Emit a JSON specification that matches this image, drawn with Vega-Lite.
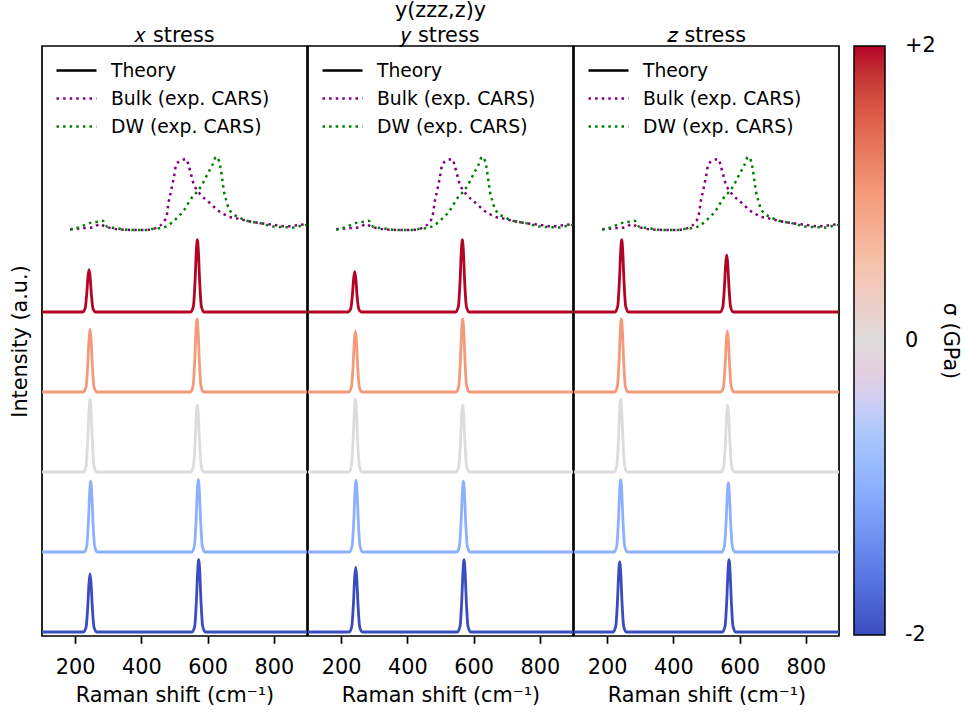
{
"$schema": "https://vega.github.io/schema/vega-lite/v6.json",
"padding": {"left": 8, "top": -1, "right": 0, "bottom": 0},
"config": {
  "font": "DejaVu Sans",
  "view": {"stroke": "black", "strokeWidth": 1.7},
  "concat": {"spacing": -3},
  "title": {"fontSize": 20.8, "fontWeight": "normal", "color": "black", "offset": -1, "lineHeight": 25},
  "axis": {"grid": false, "domain": false, "labelColor": "black", "titleColor": "black", "tickColor": "black", "labelFontSize": 20.8, "titleFontSize": 20.8, "titleFontWeight": "normal"}
},
"datasets": {
"theory": [
{"p":"x","s":-2,"x":100,"y":0},{"p":"x","s":-2,"x":225,"y":0},{"p":"x","s":-2,"x":233,"y":0.058},{"p":"x","s":-2,"x":238,"y":0.305},{"p":"x","s":-2,"x":242,"y":0.616},{"p":"x","s":-2,"x":245,"y":0.725},{"p":"x","s":-2,"x":248,"y":0.616},{"p":"x","s":-2,"x":252,"y":0.305},{"p":"x","s":-2,"x":257,"y":0.058},{"p":"x","s":-2,"x":265,"y":0},{"p":"x","s":-2,"x":553,"y":0},{"p":"x","s":-2,"x":561,"y":0.072},{"p":"x","s":-2,"x":566,"y":0.38},{"p":"x","s":-2,"x":570,"y":0.769},{"p":"x","s":-2,"x":573,"y":0.905},{"p":"x","s":-2,"x":576,"y":0.769},{"p":"x","s":-2,"x":580,"y":0.38},{"p":"x","s":-2,"x":585,"y":0.072},{"p":"x","s":-2,"x":593,"y":0},{"p":"x","s":-2,"x":900,"y":0},
{"p":"x","s":-1,"x":100,"y":1},{"p":"x","s":-1,"x":227,"y":1},{"p":"x","s":-1,"x":235,"y":1.071},{"p":"x","s":-1,"x":240,"y":1.372},{"p":"x","s":-1,"x":244,"y":1.752},{"p":"x","s":-1,"x":247,"y":1.885},{"p":"x","s":-1,"x":250,"y":1.752},{"p":"x","s":-1,"x":254,"y":1.372},{"p":"x","s":-1,"x":259,"y":1.071},{"p":"x","s":-1,"x":267,"y":1},{"p":"x","s":-1,"x":552,"y":1},{"p":"x","s":-1,"x":560,"y":1.072},{"p":"x","s":-1,"x":565,"y":1.38},{"p":"x","s":-1,"x":569,"y":1.769},{"p":"x","s":-1,"x":572,"y":1.905},{"p":"x","s":-1,"x":575,"y":1.769},{"p":"x","s":-1,"x":579,"y":1.38},{"p":"x","s":-1,"x":584,"y":1.072},{"p":"x","s":-1,"x":592,"y":1},{"p":"x","s":-1,"x":900,"y":1},
{"p":"x","s":0,"x":100,"y":2},{"p":"x","s":0,"x":225,"y":2},{"p":"x","s":0,"x":233,"y":2.073},{"p":"x","s":0,"x":238,"y":2.382},{"p":"x","s":0,"x":242,"y":2.774},{"p":"x","s":0,"x":245,"y":2.91},{"p":"x","s":0,"x":248,"y":2.774},{"p":"x","s":0,"x":252,"y":2.382},{"p":"x","s":0,"x":257,"y":2.073},{"p":"x","s":0,"x":265,"y":2},{"p":"x","s":0,"x":549,"y":2},{"p":"x","s":0,"x":557,"y":2.067},{"p":"x","s":0,"x":562,"y":2.351},{"p":"x","s":0,"x":566,"y":2.71},{"p":"x","s":0,"x":569,"y":2.835},{"p":"x","s":0,"x":572,"y":2.71},{"p":"x","s":0,"x":576,"y":2.351},{"p":"x","s":0,"x":581,"y":2.067},{"p":"x","s":0,"x":589,"y":2},{"p":"x","s":0,"x":900,"y":2},
{"p":"x","s":1,"x":100,"y":3},{"p":"x","s":1,"x":225,"y":3},{"p":"x","s":1,"x":233,"y":3.063},{"p":"x","s":1,"x":238,"y":3.33},{"p":"x","s":1,"x":242,"y":3.667},{"p":"x","s":1,"x":245,"y":3.785},{"p":"x","s":1,"x":248,"y":3.667},{"p":"x","s":1,"x":252,"y":3.33},{"p":"x","s":1,"x":257,"y":3.063},{"p":"x","s":1,"x":265,"y":3},{"p":"x","s":1,"x":548,"y":3},{"p":"x","s":1,"x":556,"y":3.073},{"p":"x","s":1,"x":561,"y":3.384},{"p":"x","s":1,"x":565,"y":3.778},{"p":"x","s":1,"x":568,"y":3.915},{"p":"x","s":1,"x":571,"y":3.778},{"p":"x","s":1,"x":575,"y":3.384},{"p":"x","s":1,"x":580,"y":3.073},{"p":"x","s":1,"x":588,"y":3},{"p":"x","s":1,"x":900,"y":3},
{"p":"x","s":2,"x":100,"y":4},{"p":"x","s":2,"x":222,"y":4},{"p":"x","s":2,"x":230,"y":4.042},{"p":"x","s":2,"x":235,"y":4.223},{"p":"x","s":2,"x":239,"y":4.451},{"p":"x","s":2,"x":242,"y":4.53},{"p":"x","s":2,"x":245,"y":4.451},{"p":"x","s":2,"x":249,"y":4.223},{"p":"x","s":2,"x":254,"y":4.042},{"p":"x","s":2,"x":262,"y":4},{"p":"x","s":2,"x":549,"y":4},{"p":"x","s":2,"x":557,"y":4.072},{"p":"x","s":2,"x":562,"y":4.38},{"p":"x","s":2,"x":566,"y":4.769},{"p":"x","s":2,"x":569,"y":4.905},{"p":"x","s":2,"x":572,"y":4.769},{"p":"x","s":2,"x":576,"y":4.38},{"p":"x","s":2,"x":581,"y":4.072},{"p":"x","s":2,"x":589,"y":4},{"p":"x","s":2,"x":900,"y":4},
{"p":"y","s":-2,"x":100,"y":0},{"p":"y","s":-2,"x":224,"y":0},{"p":"y","s":-2,"x":232,"y":0.065},{"p":"y","s":-2,"x":237,"y":0.34},{"p":"y","s":-2,"x":241,"y":0.689},{"p":"y","s":-2,"x":244,"y":0.81},{"p":"y","s":-2,"x":247,"y":0.689},{"p":"y","s":-2,"x":251,"y":0.34},{"p":"y","s":-2,"x":256,"y":0.065},{"p":"y","s":-2,"x":264,"y":0},{"p":"y","s":-2,"x":551,"y":0},{"p":"y","s":-2,"x":559,"y":0.072},{"p":"y","s":-2,"x":564,"y":0.38},{"p":"y","s":-2,"x":568,"y":0.769},{"p":"y","s":-2,"x":571,"y":0.905},{"p":"y","s":-2,"x":574,"y":0.769},{"p":"y","s":-2,"x":578,"y":0.38},{"p":"y","s":-2,"x":583,"y":0.072},{"p":"y","s":-2,"x":591,"y":0},{"p":"y","s":-2,"x":900,"y":0},
{"p":"y","s":-1,"x":100,"y":1},{"p":"y","s":-1,"x":225,"y":1},{"p":"y","s":-1,"x":233,"y":1.072},{"p":"y","s":-1,"x":238,"y":1.376},{"p":"y","s":-1,"x":242,"y":1.761},{"p":"y","s":-1,"x":245,"y":1.895},{"p":"y","s":-1,"x":248,"y":1.761},{"p":"y","s":-1,"x":252,"y":1.376},{"p":"y","s":-1,"x":257,"y":1.072},{"p":"y","s":-1,"x":265,"y":1},{"p":"y","s":-1,"x":549,"y":1},{"p":"y","s":-1,"x":557,"y":1.071},{"p":"y","s":-1,"x":562,"y":1.372},{"p":"y","s":-1,"x":566,"y":1.752},{"p":"y","s":-1,"x":569,"y":1.885},{"p":"y","s":-1,"x":572,"y":1.752},{"p":"y","s":-1,"x":576,"y":1.372},{"p":"y","s":-1,"x":581,"y":1.071},{"p":"y","s":-1,"x":589,"y":1},{"p":"y","s":-1,"x":900,"y":1},
{"p":"y","s":0,"x":100,"y":2},{"p":"y","s":0,"x":223,"y":2},{"p":"y","s":0,"x":231,"y":2.073},{"p":"y","s":0,"x":236,"y":2.382},{"p":"y","s":0,"x":240,"y":2.774},{"p":"y","s":0,"x":243,"y":2.91},{"p":"y","s":0,"x":246,"y":2.774},{"p":"y","s":0,"x":250,"y":2.382},{"p":"y","s":0,"x":255,"y":2.073},{"p":"y","s":0,"x":263,"y":2},{"p":"y","s":0,"x":547,"y":2},{"p":"y","s":0,"x":555,"y":2.067},{"p":"y","s":0,"x":560,"y":2.351},{"p":"y","s":0,"x":564,"y":2.71},{"p":"y","s":0,"x":567,"y":2.835},{"p":"y","s":0,"x":570,"y":2.71},{"p":"y","s":0,"x":574,"y":2.351},{"p":"y","s":0,"x":579,"y":2.067},{"p":"y","s":0,"x":587,"y":2},{"p":"y","s":0,"x":900,"y":2},
{"p":"y","s":1,"x":100,"y":3},{"p":"y","s":1,"x":223,"y":3},{"p":"y","s":1,"x":231,"y":3.061},{"p":"y","s":1,"x":236,"y":3.319},{"p":"y","s":1,"x":240,"y":3.646},{"p":"y","s":1,"x":243,"y":3.76},{"p":"y","s":1,"x":246,"y":3.646},{"p":"y","s":1,"x":250,"y":3.319},{"p":"y","s":1,"x":255,"y":3.061},{"p":"y","s":1,"x":263,"y":3},{"p":"y","s":1,"x":547,"y":3},{"p":"y","s":1,"x":555,"y":3.073},{"p":"y","s":1,"x":560,"y":3.384},{"p":"y","s":1,"x":564,"y":3.778},{"p":"y","s":1,"x":567,"y":3.915},{"p":"y","s":1,"x":570,"y":3.778},{"p":"y","s":1,"x":574,"y":3.384},{"p":"y","s":1,"x":579,"y":3.073},{"p":"y","s":1,"x":587,"y":3},{"p":"y","s":1,"x":900,"y":3},
{"p":"y","s":2,"x":100,"y":4},{"p":"y","s":2,"x":221,"y":4},{"p":"y","s":2,"x":229,"y":4.04},{"p":"y","s":2,"x":234,"y":4.212},{"p":"y","s":2,"x":238,"y":4.429},{"p":"y","s":2,"x":241,"y":4.505},{"p":"y","s":2,"x":244,"y":4.429},{"p":"y","s":2,"x":248,"y":4.212},{"p":"y","s":2,"x":253,"y":4.04},{"p":"y","s":2,"x":261,"y":4},{"p":"y","s":2,"x":546,"y":4},{"p":"y","s":2,"x":554,"y":4.072},{"p":"y","s":2,"x":559,"y":4.38},{"p":"y","s":2,"x":563,"y":4.769},{"p":"y","s":2,"x":566,"y":4.905},{"p":"y","s":2,"x":569,"y":4.769},{"p":"y","s":2,"x":573,"y":4.38},{"p":"y","s":2,"x":578,"y":4.072},{"p":"y","s":2,"x":586,"y":4},{"p":"y","s":2,"x":900,"y":4},
{"p":"z","s":-2,"x":100,"y":0},{"p":"z","s":-2,"x":218,"y":0},{"p":"z","s":-2,"x":226,"y":0.07},{"p":"z","s":-2,"x":231,"y":0.368},{"p":"z","s":-2,"x":235,"y":0.744},{"p":"z","s":-2,"x":238,"y":0.875},{"p":"z","s":-2,"x":241,"y":0.744},{"p":"z","s":-2,"x":245,"y":0.368},{"p":"z","s":-2,"x":250,"y":0.07},{"p":"z","s":-2,"x":258,"y":0},{"p":"z","s":-2,"x":548,"y":0},{"p":"z","s":-2,"x":556,"y":0.072},{"p":"z","s":-2,"x":561,"y":0.38},{"p":"z","s":-2,"x":565,"y":0.769},{"p":"z","s":-2,"x":568,"y":0.905},{"p":"z","s":-2,"x":571,"y":0.769},{"p":"z","s":-2,"x":575,"y":0.38},{"p":"z","s":-2,"x":580,"y":0.072},{"p":"z","s":-2,"x":588,"y":0},{"p":"z","s":-2,"x":900,"y":0},
{"p":"z","s":-1,"x":100,"y":1},{"p":"z","s":-1,"x":221,"y":1},{"p":"z","s":-1,"x":229,"y":1.072},{"p":"z","s":-1,"x":234,"y":1.38},{"p":"z","s":-1,"x":238,"y":1.769},{"p":"z","s":-1,"x":241,"y":1.905},{"p":"z","s":-1,"x":244,"y":1.769},{"p":"z","s":-1,"x":248,"y":1.38},{"p":"z","s":-1,"x":253,"y":1.072},{"p":"z","s":-1,"x":261,"y":1},{"p":"z","s":-1,"x":546,"y":1},{"p":"z","s":-1,"x":554,"y":1.069},{"p":"z","s":-1,"x":559,"y":1.363},{"p":"z","s":-1,"x":563,"y":1.735},{"p":"z","s":-1,"x":566,"y":1.865},{"p":"z","s":-1,"x":569,"y":1.735},{"p":"z","s":-1,"x":573,"y":1.363},{"p":"z","s":-1,"x":578,"y":1.069},{"p":"z","s":-1,"x":586,"y":1},{"p":"z","s":-1,"x":900,"y":1},
{"p":"z","s":0,"x":100,"y":2},{"p":"z","s":0,"x":221,"y":2},{"p":"z","s":0,"x":229,"y":2.073},{"p":"z","s":0,"x":234,"y":2.382},{"p":"z","s":0,"x":238,"y":2.774},{"p":"z","s":0,"x":241,"y":2.91},{"p":"z","s":0,"x":244,"y":2.774},{"p":"z","s":0,"x":248,"y":2.382},{"p":"z","s":0,"x":253,"y":2.073},{"p":"z","s":0,"x":261,"y":2},{"p":"z","s":0,"x":544,"y":2},{"p":"z","s":0,"x":552,"y":2.067},{"p":"z","s":0,"x":557,"y":2.351},{"p":"z","s":0,"x":561,"y":2.71},{"p":"z","s":0,"x":564,"y":2.835},{"p":"z","s":0,"x":567,"y":2.71},{"p":"z","s":0,"x":571,"y":2.351},{"p":"z","s":0,"x":576,"y":2.067},{"p":"z","s":0,"x":584,"y":2},{"p":"z","s":0,"x":900,"y":2},
{"p":"z","s":1,"x":100,"y":3},{"p":"z","s":1,"x":223,"y":3},{"p":"z","s":1,"x":231,"y":3.073},{"p":"z","s":1,"x":236,"y":3.384},{"p":"z","s":1,"x":240,"y":3.778},{"p":"z","s":1,"x":243,"y":3.915},{"p":"z","s":1,"x":246,"y":3.778},{"p":"z","s":1,"x":250,"y":3.384},{"p":"z","s":1,"x":255,"y":3.073},{"p":"z","s":1,"x":263,"y":3},{"p":"z","s":1,"x":543,"y":3},{"p":"z","s":1,"x":551,"y":3.061},{"p":"z","s":1,"x":556,"y":3.321},{"p":"z","s":1,"x":560,"y":3.65},{"p":"z","s":1,"x":563,"y":3.765},{"p":"z","s":1,"x":566,"y":3.65},{"p":"z","s":1,"x":570,"y":3.321},{"p":"z","s":1,"x":575,"y":3.061},{"p":"z","s":1,"x":583,"y":3},{"p":"z","s":1,"x":900,"y":3},
{"p":"z","s":2,"x":100,"y":4},{"p":"z","s":2,"x":224,"y":4},{"p":"z","s":2,"x":232,"y":4.072},{"p":"z","s":2,"x":237,"y":4.38},{"p":"z","s":2,"x":241,"y":4.769},{"p":"z","s":2,"x":244,"y":4.905},{"p":"z","s":2,"x":247,"y":4.769},{"p":"z","s":2,"x":251,"y":4.38},{"p":"z","s":2,"x":256,"y":4.072},{"p":"z","s":2,"x":264,"y":4},{"p":"z","s":2,"x":541,"y":4},{"p":"z","s":2,"x":549,"y":4.057},{"p":"z","s":2,"x":554,"y":4.3},{"p":"z","s":2,"x":558,"y":4.608},{"p":"z","s":2,"x":561,"y":4.715},{"p":"z","s":2,"x":564,"y":4.608},{"p":"z","s":2,"x":568,"y":4.3},{"p":"z","s":2,"x":573,"y":4.057},{"p":"z","s":2,"x":581,"y":4},{"p":"z","s":2,"x":900,"y":4}
],
"exp": [
{"k":"Bulk (exp. CARS)","x":185,"y":5.035},{"k":"Bulk (exp. CARS)","x":205,"y":5.04},{"k":"Bulk (exp. CARS)","x":230,"y":5.05},{"k":"Bulk (exp. CARS)","x":257,"y":5.06},{"k":"Bulk (exp. CARS)","x":275,"y":5.1},{"k":"Bulk (exp. CARS)","x":287,"y":5.075},{"k":"Bulk (exp. CARS)","x":307,"y":5.05},{"k":"Bulk (exp. CARS)","x":338,"y":5.03},{"k":"Bulk (exp. CARS)","x":388,"y":5.025},{"k":"Bulk (exp. CARS)","x":428,"y":5.03},{"k":"Bulk (exp. CARS)","x":448,"y":5.06},{"k":"Bulk (exp. CARS)","x":466,"y":5.12},{"k":"Bulk (exp. CARS)","x":476,"y":5.2},{"k":"Bulk (exp. CARS)","x":483,"y":5.39},{"k":"Bulk (exp. CARS)","x":488,"y":5.48},{"k":"Bulk (exp. CARS)","x":493,"y":5.58},{"k":"Bulk (exp. CARS)","x":498,"y":5.68},{"k":"Bulk (exp. CARS)","x":506,"y":5.85},{"k":"Bulk (exp. CARS)","x":523,"y":5.9},{"k":"Bulk (exp. CARS)","x":536,"y":5.91},{"k":"Bulk (exp. CARS)","x":543,"y":5.825},{"k":"Bulk (exp. CARS)","x":550,"y":5.72},{"k":"Bulk (exp. CARS)","x":556,"y":5.625},{"k":"Bulk (exp. CARS)","x":565,"y":5.54},{"k":"Bulk (exp. CARS)","x":578,"y":5.47},{"k":"Bulk (exp. CARS)","x":593,"y":5.41},{"k":"Bulk (exp. CARS)","x":610,"y":5.35},{"k":"Bulk (exp. CARS)","x":628,"y":5.28},{"k":"Bulk (exp. CARS)","x":646,"y":5.23},{"k":"Bulk (exp. CARS)","x":666,"y":5.19},{"k":"Bulk (exp. CARS)","x":688,"y":5.17},{"k":"Bulk (exp. CARS)","x":718,"y":5.14},{"k":"Bulk (exp. CARS)","x":759,"y":5.11},{"k":"Bulk (exp. CARS)","x":799,"y":5.09},{"k":"Bulk (exp. CARS)","x":839,"y":5.07},{"k":"Bulk (exp. CARS)","x":879,"y":5.09},{"k":"Bulk (exp. CARS)","x":900,"y":5.1},
{"k":"DW (exp. CARS)","x":185,"y":5.03},{"k":"DW (exp. CARS)","x":206,"y":5.05},{"k":"DW (exp. CARS)","x":230,"y":5.09},{"k":"DW (exp. CARS)","x":252,"y":5.12},{"k":"DW (exp. CARS)","x":270,"y":5.13},{"k":"DW (exp. CARS)","x":283,"y":5.14},{"k":"DW (exp. CARS)","x":298,"y":5.06},{"k":"DW (exp. CARS)","x":318,"y":5.05},{"k":"DW (exp. CARS)","x":368,"y":5.025},{"k":"DW (exp. CARS)","x":413,"y":5.025},{"k":"DW (exp. CARS)","x":438,"y":5.04},{"k":"DW (exp. CARS)","x":458,"y":5.05},{"k":"DW (exp. CARS)","x":480,"y":5.08},{"k":"DW (exp. CARS)","x":498,"y":5.14},{"k":"DW (exp. CARS)","x":516,"y":5.21},{"k":"DW (exp. CARS)","x":530,"y":5.28},{"k":"DW (exp. CARS)","x":543,"y":5.37},{"k":"DW (exp. CARS)","x":556,"y":5.45},{"k":"DW (exp. CARS)","x":570,"y":5.51},{"k":"DW (exp. CARS)","x":583,"y":5.59},{"k":"DW (exp. CARS)","x":593,"y":5.67},{"k":"DW (exp. CARS)","x":603,"y":5.75},{"k":"DW (exp. CARS)","x":613,"y":5.825},{"k":"DW (exp. CARS)","x":626,"y":5.94},{"k":"DW (exp. CARS)","x":635,"y":5.88},{"k":"DW (exp. CARS)","x":640,"y":5.78},{"k":"DW (exp. CARS)","x":643,"y":5.69},{"k":"DW (exp. CARS)","x":646,"y":5.6},{"k":"DW (exp. CARS)","x":650,"y":5.49},{"k":"DW (exp. CARS)","x":656,"y":5.4},{"k":"DW (exp. CARS)","x":663,"y":5.3},{"k":"DW (exp. CARS)","x":676,"y":5.23},{"k":"DW (exp. CARS)","x":696,"y":5.18},{"k":"DW (exp. CARS)","x":718,"y":5.14},{"k":"DW (exp. CARS)","x":744,"y":5.12},{"k":"DW (exp. CARS)","x":769,"y":5.1},{"k":"DW (exp. CARS)","x":788,"y":5.075},{"k":"DW (exp. CARS)","x":810,"y":5.065},{"k":"DW (exp. CARS)","x":834,"y":5.06},{"k":"DW (exp. CARS)","x":856,"y":5.055},{"k":"DW (exp. CARS)","x":879,"y":5.075},{"k":"DW (exp. CARS)","x":900,"y":5.09}
]
},
"resolve": {
  "scale": {"color": "shared", "stroke": "independent", "strokeDash": "independent"},
  "legend": {"color": "shared", "stroke": "independent", "strokeDash": "independent"}
},
"hconcat": [
{
  "width": 265, "height": 590,
  "title": {"text": "𝑥 stress"},
  "layer": [
    {
      "data": {"name": "theory"},
      "transform": [{"filter": "datum.p == 'x'"}],
      "mark": {"type": "line", "strokeWidth": 2.8, "interpolate": "monotone", "clip": true},
      "encoding": {
        "x": {"field": "x", "type": "quantitative", "scale": {"domain": [100, 900], "nice": false}, "axis": {"title": "Raman shift (cm⁻¹)", "values": [200, 400, 600, 800], "tickSize": 7.3, "tickWidth": 1.7, "labelPadding": 14, "titlePadding": 8}},
        "y": {"field": "y", "type": "quantitative", "scale": {"domain": [-0.05, 7.325], "nice": false, "zero": false}, "axis": {"title": "Intensity (a.u.)", "labels": false, "ticks": false, "titlePadding": 12}},
        "detail": {"field": "s", "type": "nominal"},
        "color": {"field": "s", "type": "quantitative",
          "scale": {"domain": [-2, -1.5, -1, -0.5, 0, 0.5, 1, 1.5, 2], "range": ["#3b4cc0", "#6282ea", "#8db0fe", "#b8d0f9", "#dddcdc", "#f5c4ad", "#f49a7b", "#de604d", "#b40426"]},
          "legend": {"title": "σ (GPa)", "orient": "right", "offset": 14, "direction": "vertical", "gradientLength": 589, "gradientThickness": 31, "gradientStrokeColor": "black", "gradientStrokeWidth": 1.5, "values": [-2, 0, 2], "labelExpr": "datum.value > 0 ? '+' + datum.value : (datum.value < 0 ? '-' + abs(datum.value) : '0')", "labelFontSize": 20.8, "labelColor": "black", "labelOffset": 20, "labelBaseline": "middle", "labelOverlap": false, "titleOrient": "right", "titleAnchor": "middle", "titleAngle": 270, "titleFontSize": 20.8, "titleFontWeight": "normal", "titleColor": "black", "titlePadding": 4,
            "encode": {"labels": {"update": {"baseline": {"value": "middle"}}}}}
        }
      }
    },
    {
      "data": {"name": "exp"},
      "mark": {"type": "line", "strokeWidth": 2.5, "interpolate": "monotone", "clip": true},
      "encoding": {
        "x": {"field": "x", "type": "quantitative"},
        "y": {"field": "y", "type": "quantitative"},
        "stroke": {"field": "k", "type": "nominal", "scale": {"domain": ["Theory", "Bulk (exp. CARS)", "DW (exp. CARS)"], "range": ["black", "#800080", "#008000"]},
          "legend": {"title": null, "orient": "top-left", "offset": 13, "padding": 0, "symbolType": "M-1,0H3", "symbolSize": 400, "symbolStrokeWidth": 2.5, "labelFontSize": 18.75, "labelColor": "black", "labelOffset": 33, "rowPadding": 6}},
        "strokeDash": {"field": "k", "type": "nominal", "scale": {"domain": ["Theory", "Bulk (exp. CARS)", "DW (exp. CARS)"], "range": [[1, 0], [2.5, 4.1], [2.5, 4.1]]},
          "legend": {"title": null, "orient": "top-left", "offset": 13, "padding": 0, "symbolType": "M-1,0H3", "symbolSize": 400, "symbolStrokeWidth": 2.5, "labelFontSize": 18.75, "labelColor": "black", "labelOffset": 33, "rowPadding": 6}}
      }
    }
  ]
},
{
  "width": 265, "height": 590,
  "title": {"text": ["y(zzz,z)y", "𝑦 stress"]},
  "layer": [
    {
      "data": {"name": "theory"},
      "transform": [{"filter": "datum.p == 'y'"}],
      "mark": {"type": "line", "strokeWidth": 2.8, "interpolate": "monotone", "clip": true},
      "encoding": {
        "x": {"field": "x", "type": "quantitative", "scale": {"domain": [100, 900], "nice": false}, "axis": {"title": "Raman shift (cm⁻¹)", "values": [200, 400, 600, 800], "tickSize": 7.3, "tickWidth": 1.7, "labelPadding": 14, "titlePadding": 8}},
        "y": {"field": "y", "type": "quantitative", "scale": {"domain": [-0.05, 7.325], "nice": false, "zero": false}, "axis": null},
        "detail": {"field": "s", "type": "nominal"},
        "color": {"field": "s", "type": "quantitative",
          "scale": {"domain": [-2, -1.5, -1, -0.5, 0, 0.5, 1, 1.5, 2], "range": ["#3b4cc0", "#6282ea", "#8db0fe", "#b8d0f9", "#dddcdc", "#f5c4ad", "#f49a7b", "#de604d", "#b40426"]}}
      }
    },
    {
      "data": {"name": "exp"},
      "mark": {"type": "line", "strokeWidth": 2.5, "interpolate": "monotone", "clip": true},
      "encoding": {
        "x": {"field": "x", "type": "quantitative"},
        "y": {"field": "y", "type": "quantitative"},
        "stroke": {"field": "k", "type": "nominal", "scale": {"domain": ["Theory", "Bulk (exp. CARS)", "DW (exp. CARS)"], "range": ["black", "#800080", "#008000"]},
          "legend": {"title": null, "orient": "top-left", "offset": 13, "padding": 0, "symbolType": "M-1,0H3", "symbolSize": 400, "symbolStrokeWidth": 2.5, "labelFontSize": 18.75, "labelColor": "black", "labelOffset": 33, "rowPadding": 6}},
        "strokeDash": {"field": "k", "type": "nominal", "scale": {"domain": ["Theory", "Bulk (exp. CARS)", "DW (exp. CARS)"], "range": [[1, 0], [2.5, 4.1], [2.5, 4.1]]},
          "legend": {"title": null, "orient": "top-left", "offset": 13, "padding": 0, "symbolType": "M-1,0H3", "symbolSize": 400, "symbolStrokeWidth": 2.5, "labelFontSize": 18.75, "labelColor": "black", "labelOffset": 33, "rowPadding": 6}}
      }
    }
  ]
},
{
  "width": 265, "height": 590,
  "title": {"text": "𝑧 stress"},
  "layer": [
    {
      "data": {"name": "theory"},
      "transform": [{"filter": "datum.p == 'z'"}],
      "mark": {"type": "line", "strokeWidth": 2.8, "interpolate": "monotone", "clip": true},
      "encoding": {
        "x": {"field": "x", "type": "quantitative", "scale": {"domain": [100, 900], "nice": false}, "axis": {"title": "Raman shift (cm⁻¹)", "values": [200, 400, 600, 800], "tickSize": 7.3, "tickWidth": 1.7, "labelPadding": 14, "titlePadding": 8}},
        "y": {"field": "y", "type": "quantitative", "scale": {"domain": [-0.05, 7.325], "nice": false, "zero": false}, "axis": null},
        "detail": {"field": "s", "type": "nominal"},
        "color": {"field": "s", "type": "quantitative",
          "scale": {"domain": [-2, -1.5, -1, -0.5, 0, 0.5, 1, 1.5, 2], "range": ["#3b4cc0", "#6282ea", "#8db0fe", "#b8d0f9", "#dddcdc", "#f5c4ad", "#f49a7b", "#de604d", "#b40426"]}}
      }
    },
    {
      "data": {"name": "exp"},
      "mark": {"type": "line", "strokeWidth": 2.5, "interpolate": "monotone", "clip": true},
      "encoding": {
        "x": {"field": "x", "type": "quantitative"},
        "y": {"field": "y", "type": "quantitative"},
        "stroke": {"field": "k", "type": "nominal", "scale": {"domain": ["Theory", "Bulk (exp. CARS)", "DW (exp. CARS)"], "range": ["black", "#800080", "#008000"]},
          "legend": {"title": null, "orient": "top-left", "offset": 13, "padding": 0, "symbolType": "M-1,0H3", "symbolSize": 400, "symbolStrokeWidth": 2.5, "labelFontSize": 18.75, "labelColor": "black", "labelOffset": 33, "rowPadding": 6}},
        "strokeDash": {"field": "k", "type": "nominal", "scale": {"domain": ["Theory", "Bulk (exp. CARS)", "DW (exp. CARS)"], "range": [[1, 0], [2.5, 4.1], [2.5, 4.1]]},
          "legend": {"title": null, "orient": "top-left", "offset": 13, "padding": 0, "symbolType": "M-1,0H3", "symbolSize": 400, "symbolStrokeWidth": 2.5, "labelFontSize": 18.75, "labelColor": "black", "labelOffset": 33, "rowPadding": 6}}
      }
    }
  ]
}
]
}
